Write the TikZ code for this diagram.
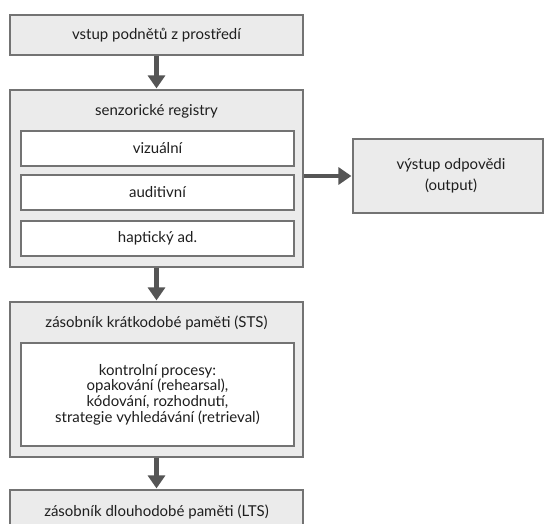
\documentclass[tikz,border=0pt]{standalone}
\usepackage{fontspec}
\setmainfont{Lato}
\usetikzlibrary{arrows.meta}
\definecolor{boxfill}{RGB}{235,235,235}
\definecolor{boxline}{RGB}{115,115,115}
\definecolor{arrowc}{RGB}{85,85,85}
\definecolor{txt}{RGB}{30,30,30}
\tikzset{
  outerbox/.style={draw=boxline, fill=boxfill, line width=1.2pt, inner sep=0pt},
  innerbox/.style={draw=boxline, fill=white, line width=1.2pt, inner sep=0pt, text=txt, font=\fontsize{15}{15.7}\selectfont, align=center},
  lbl/.style={text=txt, font=\fontsize{15}{15.7}\selectfont, align=center, inner sep=0pt},
  flow/.style={draw=arrowc, line width=4.5pt, -{Triangle[width=17pt,length=13pt]}, shorten >=1pt}
}
\begin{document}
\begin{tikzpicture}[x=1pt,y=-1pt]
\useasboundingbox (0,0) rectangle (544,523);
\clip (0,0) rectangle (544,523);
\node[outerbox, minimum width=293pt, minimum height=40pt] (in) at (156.5,35) {};
\node[lbl] (intxt) at (in.center) {vstup podnětů z prostředí};
\node[outerbox, minimum width=293pt, minimum height=177pt] (sr) at (156.5,178.5) {};
\node[lbl] (srtxt) at (156.5,111) {senzorické registry};
\node[innerbox, minimum width=273pt, minimum height=35pt] (viz) at (157.5,148.5) {vizuální};
\node[innerbox, minimum width=273pt, minimum height=35pt] (aud) at (157.5,192.5) {auditivní};
\node[innerbox, minimum width=273pt, minimum height=35pt] (hap) at (157.5,238.5) {haptický ad.};
\node[outerbox, minimum width=190pt, minimum height=74pt] (out) at (448,176) {};
\node[lbl, font=\fontsize{15}{21}\selectfont] (outtxt) at (451,176) {výstup odpovědi\\(output)};
\node[outerbox, minimum width=293pt, minimum height=155pt] (sts) at (156.5,379.5) {};
\node[lbl] (ststxt) at (156.5,323) {zásobník krátkodobé paměti (STS)};
\node[innerbox, minimum width=273pt, minimum height=103pt] (ctrl) at (157.5,394.5) {kontrolní procesy:\\opakování (rehearsal),\\kódování, rozhodnutí,\\strategie vyhledávání (retrieval)};
\node[outerbox, minimum width=293pt, minimum height=45pt] (lts) at (156.5,512.5) {};
\node[lbl] (ltstxt) at (156.5,512) {zásobník dlouhodobé paměti (LTS)};
\draw[flow] (in.south) -- (sr.north);
\draw[flow] (sr.east |- out.west) -- (out.west);
\draw[flow] (sr.south) -- (sts.north);
\draw[flow] (sts.south) -- (lts.north);
\end{tikzpicture}
\end{document}
